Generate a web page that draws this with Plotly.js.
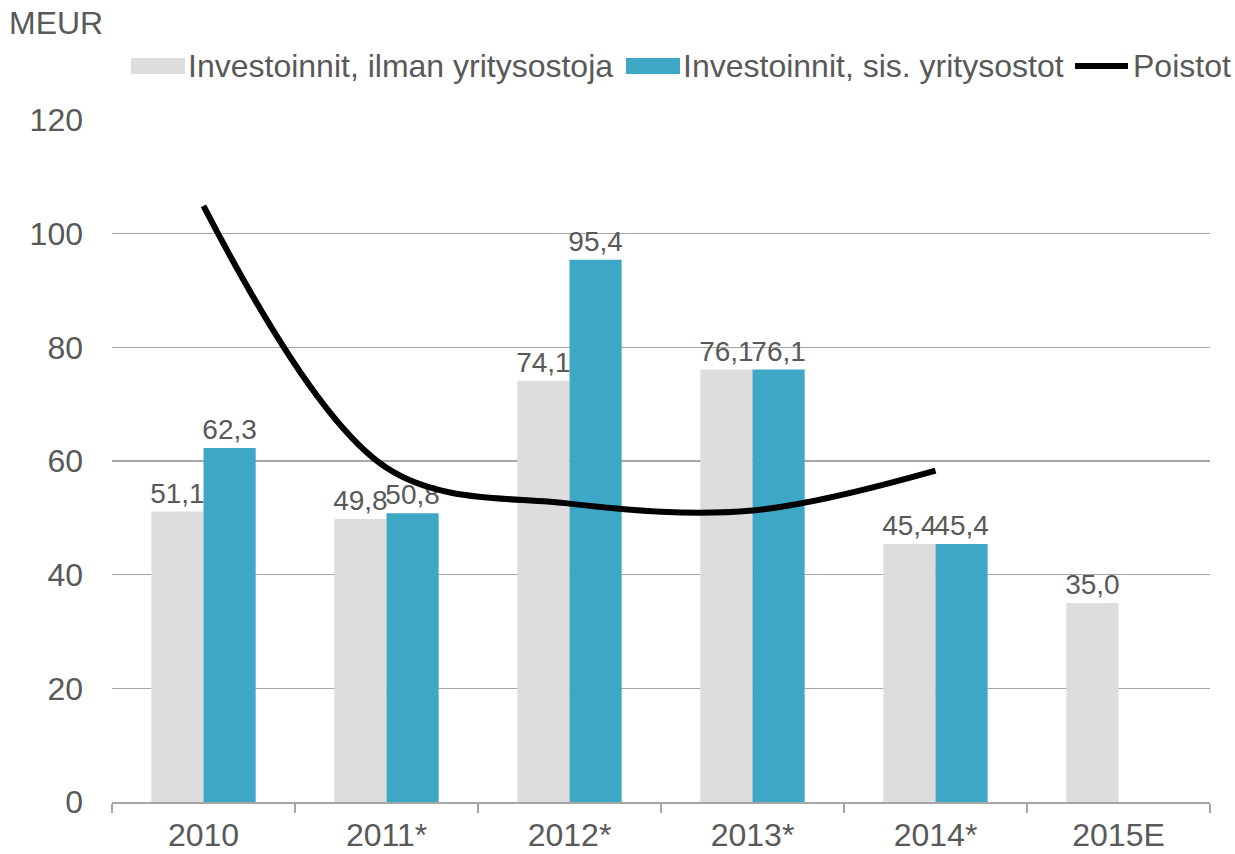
<!DOCTYPE html>
<html>
<head>
<meta charset="utf-8">
<script src="https://cdn.plot.ly/plotly-3.0.1.min.js"></script>
<style>
html,body{margin:0;padding:0;background:#fff;}
#chart{width:1235px;height:854px;}
</style>
</head>
<body>
<div id="chart"></div>
<script>
// ---- data ----
const categories = ["2010", "2011*", "2012*", "2013*", "2014*", "2015E"];
const investNoAcq = [51.1, 49.8, 74.1, 76.1, 45.4, 35.0];
const investInclAcq = [62.3, 50.8, 95.4, 76.1, 45.4, null];
const depreciation = [104.9, 58.8, 52.5, 51.3, 58.3, null];
const seriesNames = ["Investoinnit, ilman yritysostoja", "Investoinnit, sis. yritysostot", "Poistot"];
const unitLabel = "MEUR";
const yTicks = [0, 20, 40, 60, 80, 100, 120];

// ---- style ----
const FONT = "'Liberation Sans', Arial, sans-serif";
const TXT = "#595959";
const GRAY = "#DEDCDD";
const BLUE = "#3EA7C6";
const GRID = "#A6A6A6";
const FS = 32;
const LFS = 28;

const traces = [
  {
    type: "bar", name: seriesNames[0], x: categories, y: investNoAcq,
    marker: {color: GRAY}, texttemplate: "%{y:.1f}", textposition: "outside", textangle: 0,
    constraintext: "none",
    textfont: {family: FONT, size: LFS, color: TXT}, cliponaxis: false,
    showlegend: false, hoverinfo: "skip"
  },
  {
    type: "bar", name: seriesNames[1], x: categories, y: investInclAcq,
    marker: {color: BLUE}, texttemplate: "%{y:.1f}", textposition: "outside", textangle: 0,
    constraintext: "none",
    textfont: {family: FONT, size: LFS, color: TXT}, cliponaxis: false,
    showlegend: false, hoverinfo: "skip"
  },
  {
    type: "scatter", mode: "lines", name: seriesNames[2], x: categories, y: depreciation,
    line: {color: "#000000", width: 6, shape: "spline", smoothing: 1},
    showlegend: false, hoverinfo: "skip", connectgaps: false
  }
];

// legend drawn as shapes + annotations in paper space
const L = 112, R = 1210, T = 120, B = 802;
const px = v => (v - L) / (R - L);
const py = v => (B - v) / (B - T);

const shapes = [
  {type: "rect", xref: "paper", yref: "paper", x0: px(131), x1: px(185), y0: py(74), y1: py(58), fillcolor: GRAY, line: {width: 0}},
  {type: "rect", xref: "paper", yref: "paper", x0: px(626), x1: px(680), y0: py(74), y1: py(58), fillcolor: BLUE, line: {width: 0}},
  {type: "line", xref: "paper", yref: "paper", x0: px(1075), x1: px(1128), y0: py(66), y1: py(66), line: {color: "#000", width: 6}}
];

const annotations = [
  {text: unitLabel, xref: "paper", yref: "paper", x: px(7), y: py(23), xanchor: "left", yanchor: "middle", showarrow: false, font: {family: FONT, size: FS, color: TXT}},
  {text: seriesNames[0], xref: "paper", yref: "paper", x: px(186), y: py(66), xanchor: "left", yanchor: "middle", showarrow: false, font: {family: FONT, size: FS, color: TXT}},
  {text: seriesNames[1], xref: "paper", yref: "paper", x: px(681), y: py(66), xanchor: "left", yanchor: "middle", showarrow: false, font: {family: FONT, size: FS, color: TXT}},
  {text: seriesNames[2], xref: "paper", yref: "paper", x: px(1131), y: py(66), xanchor: "left", yanchor: "middle", showarrow: false, font: {family: FONT, size: FS, color: TXT}}
];

const layout = {
  width: 1235, height: 854,
  margin: {l: L, r: 1235 - R, t: T, b: 854 - B, pad: 0},
  paper_bgcolor: "#fff", plot_bgcolor: "#fff",
  separators: ", ",
  barmode: "group", bargap: 0.43, bargroupgap: 0,
  showlegend: false,
  font: {family: FONT, size: FS, color: TXT},
  xaxis: {
    type: "category", range: [-0.5, 5.5], fixedrange: true,
    showline: true, linecolor: GRID, linewidth: 2,
    ticks: "outside", ticklen: 9, tickwidth: 1.5, tickcolor: GRID, tickson: "boundaries",
    showgrid: false, zeroline: false,
    tickfont: {family: FONT, size: FS, color: TXT}, ticklabelstandoff: 4
  },
  yaxis: {
    range: [0, 120], tickvals: yTicks, fixedrange: true,
    showgrid: true, gridcolor: GRID, gridwidth: 1.5, zeroline: false,
    showline: false, ticks: "",
    tickfont: {family: FONT, size: FS, color: TXT}, ticklabelstandoff: 28
  },
  shapes: shapes,
  annotations: annotations
};

Plotly.newPlot("chart", traces, layout, {displayModeBar: false, staticPlot: true});
</script>
</body>
</html>
